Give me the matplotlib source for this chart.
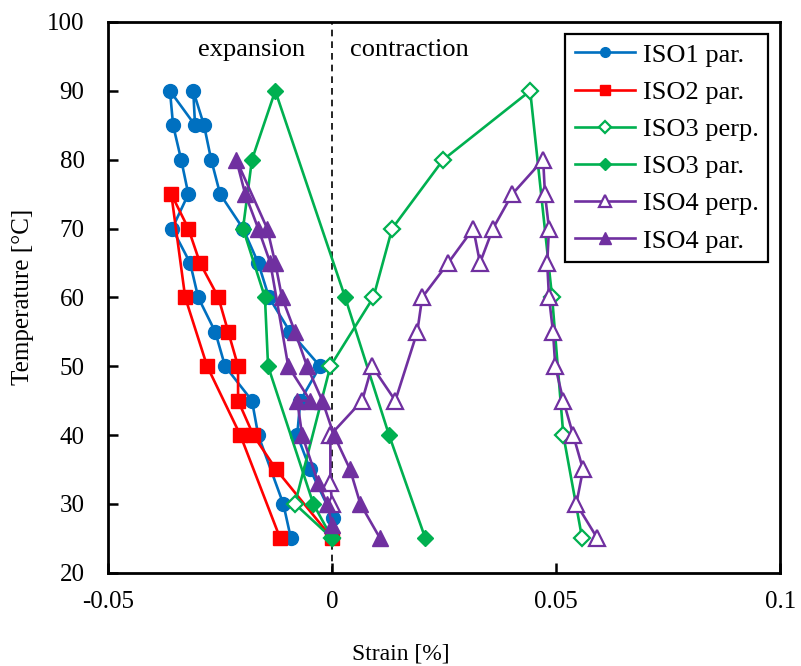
import matplotlib
matplotlib.use("Agg")
import matplotlib.pyplot as plt

# ---- data (strain [%], temperature [°C]) ----
iso1_par_T = [25, 30, 40, 45, 50, 55, 60, 65, 70, 75, 80, 85, 90, 85, 90, 85, 80, 75, 70, 65, 60, 55, 50, 45, 40, 35, 28]
iso1_par_S = [-0.0092, -0.0109, -0.0165, -0.0179, -0.0239, -0.0261, -0.0299, -0.0317, -0.0357, -0.0321,
              -0.0337, -0.0355, -0.0362, -0.0306, -0.0310, -0.0286, -0.0270, -0.0250, -0.0199, -0.0165,
              -0.0141, -0.0094, -0.0027, -0.0071, -0.0078, -0.0049, 0.0002]

iso2_par_T = [25, 40, 50, 60, 75, 70, 65, 60, 55, 50, 45, 40, 35, 25]
iso2_par_S = [-0.0116, -0.0205, -0.0279, -0.0328, -0.0359, -0.0321, -0.0295, -0.0254, -0.0232, -0.0210,
              -0.0210, -0.0176, -0.0125, 0.0000]

iso3_perp_T = [25, 30, 50, 60, 70, 80, 90, 60, 40, 25]
iso3_perp_S = [0.0000, -0.0083, -0.0004, 0.0092, 0.0134, 0.0248, 0.0442, 0.0491, 0.0516, 0.0558]

iso3_par_T = [25, 30, 50, 60, 70, 80, 90, 60, 40, 25]
iso3_par_S = [0.0000, -0.0042, -0.0143, -0.0150, -0.0199, -0.0179, -0.0127, 0.0029, 0.0127, 0.0208]

iso4_perp_T = [30, 33, 40, 45, 50, 45, 55, 60, 65, 70, 65, 70, 75, 80, 75, 70, 65, 60, 55, 50, 45, 40, 35, 30, 25]
iso4_perp_S = [0.0000, -0.0004, -0.0004, 0.0067, 0.0089, 0.0141, 0.0190, 0.0201, 0.0259, 0.0315, 0.0330,
               0.0359, 0.0402, 0.0471, 0.0475, 0.0484, 0.0480, 0.0484, 0.0493, 0.0498, 0.0516, 0.0538,
               0.0560, 0.0545, 0.0592]

iso4_par_T = [25, 30, 35, 40, 45, 50, 55, 60, 65, 70, 80, 75, 70, 65, 50, 45, 45, 40, 33, 30, 27]
iso4_par_S = [0.0107, 0.0063, 0.0040, 0.0004, -0.0022, -0.0056, -0.0083, -0.0112, -0.0127, -0.0145,
              -0.0214, -0.0194, -0.0165, -0.0138, -0.0098, -0.0049, -0.0078, -0.0067, -0.0031, -0.0011, 0.0000]

x_ticks = [-0.05, 0, 0.05, 0.1]
x_tick_labels = ["-0.05", "0", "0.05", "0.1"]
y_ticks = [20, 30, 40, 50, 60, 70, 80, 90, 100]

BLUE = "#0070C0"
RED = "#FF0000"
GREEN = "#00B050"
PURPLE = "#7030A0"

plt.rcParams['font.family'] = ['Liberation Serif', 'DejaVu Serif']

fig = plt.figure(figsize=(8.01, 6.66), dpi=100)
ax = fig.add_axes([0.135, 0.140, 0.839, 0.827])

lw = 1.9
ax.plot(iso1_par_S, iso1_par_T, color=BLUE, lw=lw, marker='o', ms=10, mec=BLUE, mfc=BLUE, label="ISO1 par.", zorder=3)
ax.plot(iso2_par_S, iso2_par_T, color=RED, lw=lw, marker='s', ms=10.5, mec=RED, mfc=RED, label="ISO2 par.", zorder=3)
ax.plot(iso3_perp_S, iso3_perp_T, color=GREEN, lw=lw, marker='D', ms=8.5, mec=GREEN, mfc='white', mew=1.6, label="ISO3 perp.", zorder=3)
ax.plot(iso3_par_S, iso3_par_T, color=GREEN, lw=lw, marker='D', ms=8.5, mec=GREEN, mfc=GREEN, label="ISO3 par.", zorder=3)
ax.plot(iso4_perp_S, iso4_perp_T, color=PURPLE, lw=lw, marker='^', ms=11.5, mec=PURPLE, mfc='white', mew=1.6, label="ISO4 perp.", zorder=3)
ax.plot(iso4_par_S, iso4_par_T, color=PURPLE, lw=lw, marker='^', ms=11.5, mec=PURPLE, mfc=PURPLE, label="ISO4 par.", zorder=3)

ax.axvline(0, color='black', lw=1.2, ls=(0, (4, 3)), zorder=2)

ax.set_xlim(-0.05, 0.1)
ax.set_ylim(20, 100)
ax.set_xticks(x_ticks)
ax.set_xticklabels(x_tick_labels)
ax.set_yticks(y_ticks)
ax.tick_params(direction='in', length=7, width=1.8, labelsize=18)
ax.tick_params(axis='x', pad=13)
ax.tick_params(axis='y', pad=17)
for sp in ax.spines.values():
    sp.set_linewidth(2.0)
    sp.set_color('black')

ax.set_xlabel("Strain [%]", fontsize=17)
ax.xaxis.set_label_coords(0.435, -0.128)
ax.set_ylabel("Temperature [°C]", fontsize=18)
ax.yaxis.set_label_coords(-0.11, 0.5)

ax.text(-0.0179, 95.9, "expansion", fontsize=19, ha='center', va='center')
ax.text(0.0172, 95.9, "contraction", fontsize=19, ha='center', va='center')

leg = ax.legend(loc='upper right', fontsize=19, frameon=True, fancybox=False,
                edgecolor='black', framealpha=1, borderpad=0.35, labelspacing=0.52,
                handlelength=2.3, handletextpad=0.3, borderaxespad=0.45, markerscale=0.7)
leg.get_frame().set_linewidth(1.6)

fig.savefig("out.png", dpi=100)
